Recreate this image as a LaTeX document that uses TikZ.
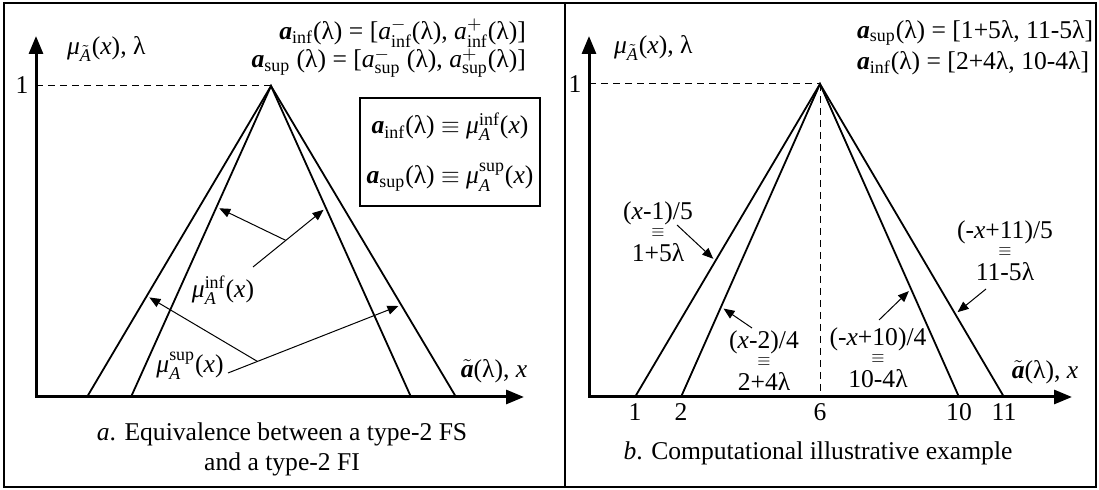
\documentclass[tikz,border=0pt]{standalone}
\usepackage{amsmath}
\usepackage{fontspec}
\setmainfont{Liberation Serif}
\usetikzlibrary{arrows.meta,calc}

\newcommand{\va}{\textbf{\textit{a}}}
\newcommand{\vx}{\textit{x}}
\newcommand{\vmu}{\textit{μ}}
\newcommand{\eqv}{\raisebox{2pt}{\footnotesize$\equiv$}}

\begin{document}
\begin{tikzpicture}[
  x=0.5pt, y=-0.5pt,
  font=\fontsize{12.8}{15}\selectfont,
  frame/.style={line width=1pt},
  axes/.style={line width=1.5pt, {Triangle[length=9pt,width=7pt]}-{Triangle[length=9pt,width=7pt]}},
  leg/.style={line width=0.9pt},
  guide/.style={line width=0.5pt, dash pattern=on 3.5pt off 2.5pt},
  pointer/.style={line width=0.5pt, -{Triangle[length=5.5pt,width=4.5pt]}, shorten >=1.5pt},
  formula/.style={align=center, inner sep=1pt, font=\fontsize{12.8}{10.5}\selectfont},
  ticklbl/.style={below, inner sep=3pt},
]
\useasboundingbox (0,0) rectangle (1099,490);

% ===== outer frame =====
\draw[frame] (4,3) rectangle (1096,487);
\draw[frame] (565,3) -- (565,487);

% ===== Left half: type-2 FS vs type-2 FI =====
\coordinate (o1) at (36,397);
\coordinate (ytip1) at (36,36);
\coordinate (xtip1) at (524,397);
\coordinate (top1) at (271,86);
\coordinate (lo1) at (87,397);
\coordinate (li1) at (131,397);
\coordinate (ri1) at (411,397);
\coordinate (ro1) at (456,397);

\draw[axes] (ytip1) -- (o1) -- (xtip1);
\draw[guide] (ytip1 |- top1) -- (top1);
\draw[leg] (lo1) -- (top1) -- (ro1);
\draw[leg] (li1) -- (top1) -- (ri1);

\node (one1) at (22,85) {1};
\node[anchor=west] (ylab1) at (60,49) {$\vmu_{\tilde{\textit{A}}}$(\vx), λ};
\node (xlab1) at (494,371) {$\tilde{\va}$(λ), \vx};
\node[anchor=east] (ainf1) at (533,33) {\va$_{\text{inf}}$(λ) = [\textit{a}$^{-}_{\text{inf}}$(λ), \textit{a}$^{+}_{\text{inf}}$(λ)]};
\node[anchor=east] (asup1) at (533,63) {\va$_{\text{sup}}$ (λ) = [\textit{a}$^{-}_{\text{sup}}$ (λ), \textit{a}$^{+}_{\text{sup}}$(λ)]};

\node[draw, frame, minimum width=87pt, minimum height=54pt, align=center] (eqbox) at (450,152)
  {\va$_{\text{inf}}$(λ) $\equiv$ $\vmu_{\textit{A}}^{\text{inf}}$(\vx)\\[10pt]
   \va$_{\text{sup}}$(λ) $\equiv$ $\vmu_{\textit{A}}^{\text{sup}}$(\vx)};

\node (muinf) at (223,290) {$\vmu_{\textit{A}}^{\text{inf}}$(\vx)};
\node (musup) at (190,366) {$\vmu_{\textit{A}}^{\text{sup}}$(\vx)};

\coordinate (p1) at ($(top1)!0.389!(li1)$);
\coordinate (p2) at ($(top1)!0.392!(ri1)$);
\coordinate (p3) at ($(top1)!0.675!(lo1)$);
\coordinate (p4) at ($(top1)!0.704!(ro1)$);
\coordinate (t2) at (253,267);
\coordinate (t4) at (228,373);

\draw[pointer] (t2) -- (p2);
\draw[pointer] ($(t2)!0.45!(p2)$) -- (p1);
\draw[pointer] (t4) -- (p4);
\draw[pointer] ($(t4)!0.17!(p4)$) -- (p3);

\node[align=center] (capa) at (282,449) {\textit{a}. Equivalence between a type-2 FS\\and a type-2 FI};

% ===== Right half: computational example =====
\coordinate (o2) at (589,397);
\coordinate (ytip2) at (589,36);
\coordinate (xtip2) at (1072,397);
\coordinate (top2) at (820,84);
\coordinate (lo2) at (635,397);
\coordinate (li2) at (681,397);
\coordinate (ri2) at (959,397);
\coordinate (ro2) at (1004,397);

\draw[axes] (ytip2) -- (o2) -- (xtip2);
\draw[guide] (ytip2 |- top2) -- (top2);
\draw[guide] (top2) -- (top2 |- o2);
\draw[leg] (lo2) -- (top2) -- (ro2);
\draw[leg] (li2) -- (top2) -- (ri2);

\node (one2) at (575,84) {1};
\node[anchor=west] (ylab2) at (607,48) {$\vmu_{\tilde{\textit{A}}}$(\vx), λ};
\node (xlab2) at (1045,372) {$\tilde{\va}$(λ), \vx};
\node[anchor=west] (asup2) at (850,33) {\va$_{\text{sup}}$(λ) = [1+5λ, 11-5λ]};
\node[anchor=west] (ainf2) at (850,63) {\va$_{\text{inf}}$(λ) = [2+4λ, 10-4λ]};

\node[ticklbl] (n1) at (lo2) {1};
\node[ticklbl] (n2) at (li2) {2};
\node[ticklbl] (n6) at (top2 |- o2) {6};
\node[ticklbl] (n10) at (ri2) {10};
\node[ticklbl] (n11) at (ro2) {11};

\node[formula] (f1) at (658,232) {(\vx-1)/5\\\eqv\\1+5λ};
\node[formula] (f2) at (764,361) {(\vx-2)/4\\\eqv\\2+4λ};
\node[formula] (f3) at (878,358) {(-\vx+10)/4\\\eqv\\10-4λ};
\node[formula] (f4) at (1005,251) {(-\vx+11)/5\\\eqv\\11-5λ};

\coordinate (q1) at ($(top2)!0.565!(lo2)$);
\coordinate (q2) at ($(top2)!0.712!(li2)$);
\coordinate (q3) at ($(top2)!0.655!(ri2)$);
\coordinate (q4) at ($(top2)!0.735!(ro2)$);
\coordinate (s1) at (677,225);
\coordinate (s2) at (752,328);
\coordinate (s3) at (879,320);
\coordinate (s4) at (986,289);

\draw[pointer] (s1) -- (q1);
\draw[pointer] (s2) -- (q2);
\draw[pointer] (s3) -- (q3);
\draw[pointer] (s4) -- (q4);

\node (capb) at (818,453) {\textit{b}. Computational illustrative example};

\end{tikzpicture}
\end{document}
